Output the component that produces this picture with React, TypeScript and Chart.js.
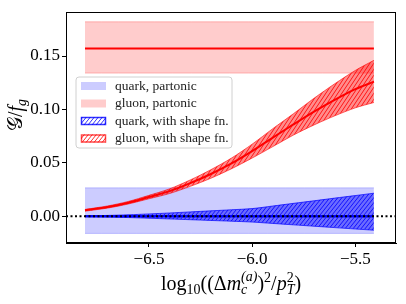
import React, { useEffect, useRef } from "react";
import { Chart, registerables } from "chart.js";
Chart.register(...registerables);

// ---------- data ----------
const xs = [-6.81, -6.7, -6.6, -6.5, -6.4, -6.3, -6.2, -6.1, -6.0, -5.9, -5.8, -5.7, -5.6, -5.5, -5.41];
const gluonShapeMid = [0.0056, 0.0087, 0.0127, 0.018, 0.0235, 0.031, 0.0396, 0.0495, 0.061, 0.0736, 0.086, 0.098, 0.109, 0.119, 0.126];
const gluonShapeUp = [0.0064, 0.0097, 0.0139, 0.0196, 0.0257, 0.034, 0.0436, 0.0545, 0.0675, 0.082, 0.096, 0.1105, 0.124, 0.1365, 0.146];
const gluonShapeLo = [0.0048, 0.0077, 0.0115, 0.0164, 0.0213, 0.028, 0.0356, 0.0445, 0.0545, 0.0652, 0.076, 0.0855, 0.094, 0.1015, 0.1065];
const quarkShapeMid = [0, 0, 0, 0, 0, 0, 0, 0, 0, 0, 0, 0, 0, 0, 0];
const quarkShapeUp = [0.0003, 0.0008, 0.0014, 0.0022, 0.0031, 0.0041, 0.0051, 0.0061, 0.0072, 0.0096, 0.0121, 0.0145, 0.017, 0.0194, 0.0216];
const quarkShapeLo = [-0.0003, -0.0007, -0.0012, -0.0018, -0.0025, -0.0032, -0.0039, -0.0046, -0.0054, -0.0067, -0.008, -0.0093, -0.0106, -0.0119, -0.013];

const partonicX = [-6.81, -5.41];
const gluonPartonicMid = [0.157, 0.157];
const gluonPartonicUp = [0.182, 0.182];
const gluonPartonicLo = [0.134, 0.134];
const quarkPartonicMid = [0, 0];
const quarkPartonicUp = [0.0266, 0.0266];
const quarkPartonicLo = [-0.016, -0.016];

const zeroLineX = [-6.902, -5.303];
const zeroLineY = [0, 0];

const xTicks = [-6.5, -6.0, -5.5];
const yTicks = [0, 0.05, 0.1, 0.15];
const xRange = [-6.902, -5.303];
const yRange = [-0.025, 0.191];

const legendLabels = ["quark, partonic", "gluon, partonic", "quark, with shape fn.", "gluon, with shape fn."];

// ---------- helpers ----------
const SERIF = "'Liberation Serif', 'DejaVu Serif', serif";

const pts = (x: number[], y: number[]) => x.map((v, i) => ({ x: v, y: y[i] }));

function hatch(bg: string, line: string, h: number): CanvasPattern | string {
  const w = 4;
  const c = document.createElement("canvas");
  c.width = w;
  c.height = h;
  const g = c.getContext("2d");
  if (!g) return bg;
  g.fillStyle = bg;
  g.fillRect(0, 0, w, h);
  g.strokeStyle = line;
  g.lineWidth = 0.9;
  for (const k of [-w, 0, w]) {
    g.beginPath();
    g.moveTo(k, h);
    g.lineTo(k + w, 0);
    g.stroke();
  }
  const p = g.createPattern(c, "repeat");
  return p || bg;
}

type Seg = { t: string; it?: boolean; dy?: number; sc?: number };
type Item = Seg | { stack: Seg[] };

function segFont(s: Seg, size: number) {
  return `${s.it ? "italic " : ""}${size * (s.sc || 1)}px ${SERIF}`;
}
function itemWidth(ctx: CanvasRenderingContext2D, it: Item, size: number) {
  const segs = "stack" in it ? it.stack : [it];
  let w = 0;
  for (const s of segs) {
    ctx.font = segFont(s, size);
    w = Math.max(w, ctx.measureText(s.t).width);
  }
  return w;
}
function drawRich(ctx: CanvasRenderingContext2D, items: Item[], cx: number, y: number, size: number) {
  const total = items.reduce((a, it) => a + itemWidth(ctx, it, size), 0);
  let x = cx - total / 2;
  ctx.textAlign = "left";
  ctx.textBaseline = "alphabetic";
  for (const it of items) {
    const segs = "stack" in it ? it.stack : [it];
    for (const s of segs) {
      ctx.font = segFont(s, size);
      ctx.fillText(s.t, x, y + (s.dy || 0));
    }
    x += itemWidth(ctx, it, size);
  }
}

const xLabel: Item[] = [
  { t: "log" },
  { t: "10", sc: 0.7, dy: 4 },
  { t: "((Δ" },
  { t: "m", it: true },
  { stack: [{ t: "c", it: true, sc: 0.7, dy: 4 }, { t: "(a)", it: true, sc: 0.7, dy: -9 }] },
  { t: ")" },
  { t: "2", sc: 0.7, dy: -8 },
  { t: "/" },
  { t: "p", it: true },
  { stack: [{ t: "2", sc: 0.7, dy: -8 }, { t: "T", it: true, sc: 0.7, dy: 4 }] },
  { t: ")" },
];
const yLabel: Item[] = [
  { t: "𝒢" },
  { t: "/" },
  { t: "f", it: true },
  { t: "g", it: true, sc: 0.7, dy: 4 },
];

const decorPlugin = {
  id: "decor",
  afterDraw(chart: any) {
    const ctx: CanvasRenderingContext2D = chart.ctx;
    const a = chart.chartArea;
    ctx.save();
    // frame
    ctx.strokeStyle = "#000";
    ctx.lineWidth = 1;
    ctx.strokeRect(Math.round(a.left) + 0.5, Math.round(a.top) + 0.5, Math.round(a.right - a.left) - 1, Math.round(a.bottom - a.top) - 1);
    // axis titles
    ctx.fillStyle = "#000";
    drawRich(ctx, xLabel, (a.left + a.right) / 2, 290, 20);
    ctx.save();
    ctx.translate(22, 115);
    ctx.rotate(-Math.PI / 2);
    drawRich(ctx, yLabel, 0, 0, 20);
    ctx.restore();
    // legend
    const lx = 76, ly = 77, lw = 156, lh = 71, r = 3;
    ctx.beginPath();
    ctx.moveTo(lx + r, ly);
    ctx.arcTo(lx + lw, ly, lx + lw, ly + lh, r);
    ctx.arcTo(lx + lw, ly + lh, lx, ly + lh, r);
    ctx.arcTo(lx, ly + lh, lx, ly, r);
    ctx.arcTo(lx, ly, lx + lw, ly, r);
    ctx.closePath();
    ctx.fillStyle = "rgba(255,255,255,0.8)";
    ctx.fill();
    ctx.strokeStyle = "#d0d0d0";
    ctx.stroke();
    const rowY = [86, 103.5, 121, 138.5];
    const styles = [
      { fill: "rgba(0,0,255,0.2)", edge: null },
      { fill: "rgba(255,0,0,0.2)", edge: null },
      { fill: hatch("rgba(0,0,255,0.0)", "rgba(0,0,255,0.9)", 5), edge: "rgba(0,0,255,0.8)" },
      { fill: hatch("rgba(255,0,0,0.0)", "rgba(255,0,0,0.9)", 5), edge: "rgba(255,0,0,0.7)" },
    ];
    for (let i = 0; i < 4; i++) {
      const by = rowY[i] - 4;
      ctx.fillStyle = styles[i].fill as any;
      ctx.fillRect(81, by, 25, 8);
      if (styles[i].edge) {
        ctx.strokeStyle = styles[i].edge as string;
        ctx.lineWidth = 1.5;
        ctx.strokeRect(81.5, by + 0.5, 24, 7);
      }
      ctx.fillStyle = "#222";
      ctx.font = `13.5px ${SERIF}`;
      ctx.textAlign = "left";
      ctx.textBaseline = "middle";
      ctx.fillText(legendLabels[i], 115, rowY[i]);
    }
    ctx.restore();
  },
};

export default function App() {
  const ref = useRef<HTMLCanvasElement | null>(null);
  useEffect(() => {
    if (!ref.current) return;
    const blueHatch = hatch("rgba(0,0,255,0.48)", "rgba(0,0,255,0.95)", 5);
    const redHatch = hatch("rgba(255,0,0,0.45)", "rgba(255,0,0,0.95)", 6);
    const line = (data: any, color: string, width: number, order: number, extra: any = {}) => ({
      type: "line" as const,
      data,
      borderColor: color,
      borderWidth: width,
      pointRadius: 0,
      fill: false,
      order,
      tension: 0.3,
      ...extra,
    });
    const chart = new Chart(ref.current, {
      type: "line",
      data: {
        datasets: [
          line(pts(partonicX, gluonPartonicUp), "rgba(255,0,0,0.25)", 1, 10, { fill: 1, backgroundColor: "rgba(255,0,0,0.2)" }),
          line(pts(partonicX, gluonPartonicLo), "rgba(255,0,0,0.25)", 1, 10),
          line(pts(partonicX, quarkPartonicUp), "rgba(0,0,255,0.2)", 1, 10, { fill: 3, backgroundColor: "rgba(0,0,255,0.2)" }),
          line(pts(partonicX, quarkPartonicLo), "rgba(0,0,255,0.2)", 1, 10),
          line(pts(xs, quarkShapeUp), "rgba(0,0,255,0.7)", 1, 6, { fill: 5, backgroundColor: blueHatch }),
          line(pts(xs, quarkShapeLo), "rgba(0,0,255,0.7)", 1, 6),
          line(pts(xs, gluonShapeUp), "rgba(255,0,0,0.6)", 1, 5, { fill: 7, backgroundColor: redHatch }),
          line(pts(xs, gluonShapeLo), "rgba(255,0,0,0.6)", 1, 5),
          line(pts(partonicX, gluonPartonicMid), "#ff0000", 2, 2),
          line(pts(xs, gluonShapeMid), "#ff0000", 2, 2),
          line(pts(partonicX, quarkPartonicMid), "#0000ff", 2, 2),
          line(pts(xs, quarkShapeMid), "#0000ff", 2, 2),
          line(pts(zeroLineX, zeroLineY), "#000000", 2, 0, { borderDash: [2, 2.5], tension: 0 }),
        ],
      },
      options: {
        animation: false,
        responsive: false,
        maintainAspectRatio: false,
        devicePixelRatio: 1,
        layout: { padding: { top: 10, right: 10, left: 0, bottom: 0 } },
        plugins: { legend: { display: false }, tooltip: { enabled: false } },
        elements: { point: { radius: 0 } },
        scales: {
          x: {
            type: "linear",
            min: xRange[0],
            max: xRange[1],
            afterFit: (s: any) => {
              s.height = 61;
            },
            afterBuildTicks: (s: any) => {
              s.ticks = xTicks.map((v) => ({ value: v }));
            },
            ticks: {
              callback: (v: any) => (v < 0 ? "−" : "") + Math.abs(v).toFixed(1),
              font: { family: SERIF, size: 17 },
              color: "#000",
              padding: 2,
              maxRotation: 0,
              autoSkip: false,
            },
            grid: { drawOnChartArea: false, drawTicks: true, tickLength: 4, tickColor: "#000" },
            border: { display: true, color: "#000", width: 1 },
          },
          y: {
            type: "linear",
            min: yRange[0],
            max: yRange[1],
            afterFit: (s: any) => {
              s.width = 66;
            },
            afterBuildTicks: (s: any) => {
              s.ticks = yTicks.map((v) => ({ value: v }));
            },
            ticks: {
              callback: (v: any) => Number(v).toFixed(2),
              font: { family: SERIF, size: 17 },
              color: "#000",
              padding: 2,
              autoSkip: false,
            },
            grid: { drawOnChartArea: false, drawTicks: true, tickLength: 4, tickColor: "#000" },
            border: { display: true, color: "#000", width: 1 },
          },
        },
      },
      plugins: [decorPlugin],
    } as any);
    return () => chart.destroy();
  }, []);
  return (
    <div style={{ position: "fixed", left: 0, top: 0, width: 406, height: 304, background: "#fff" }}>
      <canvas ref={ref} width={406} height={304} style={{ display: "block" }} />
    </div>
  );
}
